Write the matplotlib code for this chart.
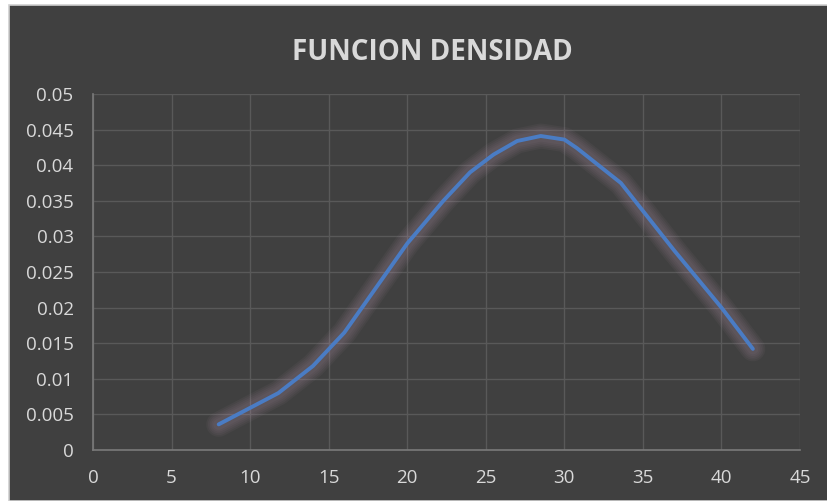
import matplotlib
matplotlib.use("Agg")
import matplotlib.pyplot as plt
from matplotlib.patches import Rectangle

# valores
x = [8.0, 11.8, 14.0, 16.0, 20.0, 22.3, 24.0, 25.5, 27.0, 28.5, 30.0, 30.8, 33.6, 37.0, 40.0, 42.0]
y = [0.0036, 0.0080, 0.0118, 0.0165, 0.0290, 0.0350, 0.0390, 0.0415, 0.0434, 0.0441,
     0.0436, 0.0424, 0.0375, 0.0280, 0.0200, 0.0142]
xticks = [0, 5, 10, 15, 20, 25, 30, 35, 40, 45]
yticks = [0, 0.005, 0.01, 0.015, 0.02, 0.025, 0.03, 0.035, 0.04, 0.045, 0.05]
ylabels = ["0", "0.005", "0.01", "0.015", "0.02", "0.025", "0.03", "0.035", "0.04", "0.045", "0.05"]

plt.rcParams['font.family'] = ['Open Sans', 'DejaVu Sans']

fig = plt.figure(figsize=(8.27, 5.01), dpi=100, facecolor='white')
fig.add_artist(Rectangle((9/827, 0), 1 - 9/827 + 0.01, (501-5)/501, transform=fig.transFigure,
                         facecolor='#404040', edgecolor='#d0d0d0', linewidth=1.2, zorder=-10))

ax = fig.add_axes([93/827, 51/501, 707/827, 356/501])
ax.set_facecolor('none')

# brillo alrededor de la linea
for lw in [18, 15.5, 13, 10.5, 8]:
    ax.plot(x, y, color='#b898b0', linewidth=lw, alpha=0.06, solid_capstyle='round',
            solid_joinstyle='round', zorder=2)
ax.plot(x, y, color='#4a7cc4', linewidth=2.8, solid_capstyle='round', solid_joinstyle='round', zorder=3)

ax.set_xlim(0, 45)
ax.set_ylim(0, 0.05)
ax.set_xticks(xticks)
ax.set_yticks(yticks)
ax.set_yticklabels(ylabels)
ax.grid(True, color='#595959', linewidth=1)
ax.set_axisbelow(True)
for s in ['top', 'right']:
    ax.spines[s].set_visible(False)
for s in ['left', 'bottom']:
    ax.spines[s].set_color('#7a7a7a')
    ax.spines[s].set_linewidth(1.2)
ax.tick_params(length=0, pad=14, labelsize=13.5, labelcolor='#d9d9d9')

fig.text(432/827, 1 - 53/501, "FUNCION DENSIDAD", ha='center', va='center',
         fontsize=20, fontweight='bold', color='#d9d9d9')

fig.savefig("out.png", dpi=100, facecolor=fig.get_facecolor())
